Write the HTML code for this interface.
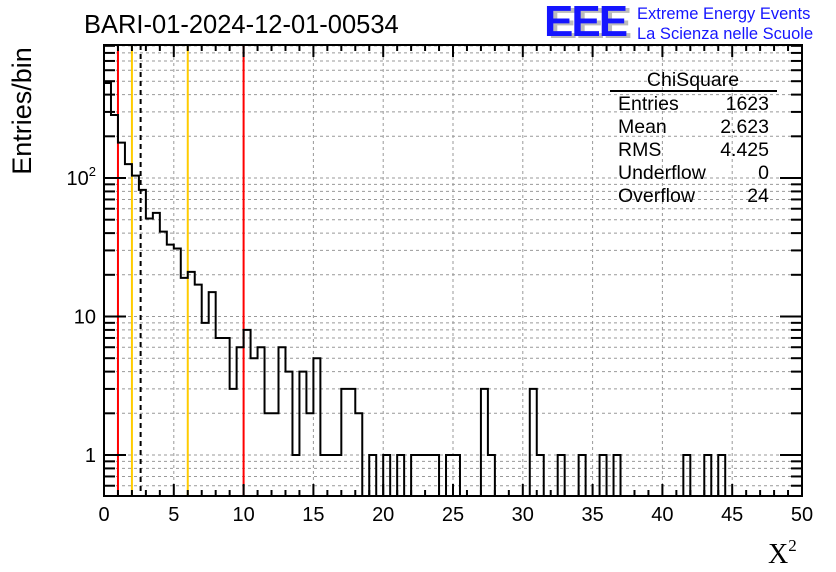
<!DOCTYPE html>
<html><head><meta charset="utf-8"><style>
body{margin:0;background:#fff;}
svg{display:block;font-family:"Liberation Sans",sans-serif;}
</style></head><body>
<svg id="c" width="836" height="572">
<text x="84" y="33" font-size="25.5">BARI-01-2024-12-01-00534</text>
<g>
<text x="548" y="38" font-size="44" font-weight="bold" fill="#bbb" letter-spacing="-2">EEE</text>
<text x="544" y="36" font-size="44" font-weight="bold" fill="#1515ff" letter-spacing="-2">EEE</text>
<text x="637" y="19" font-size="16.5" fill="#1515ff">Extreme Energy Events</text>
<text x="637" y="39" font-size="16.5" fill="#1515ff">La Scienza nelle Scuole</text>
</g>
<text transform="translate(31,111) rotate(-90)" text-anchor="middle" font-size="27">Entries/bin</text>
<text x="768" y="563" font-size="28" font-family="Liberation Serif,serif">X<tspan font-size="17" dy="-12">2</tspan></text>
<g id="grid"></g><g id="marks"></g><g id="axes"></g>
<g font-size="19.5">
<text x="693" y="86" text-anchor="middle">ChiSquare</text>
<line x1="610" y1="91" x2="777" y2="91" stroke="#000" stroke-width="2"/>
<text x="618" y="110">Entries</text><text x="769" y="110" text-anchor="end">1623</text>
<text x="618" y="133">Mean</text><text x="769" y="133" text-anchor="end">2.623</text>
<text x="618" y="156">RMS</text><text x="769" y="156" text-anchor="end">4.425</text>
<text x="618" y="179">Underflow</text><text x="769" y="179" text-anchor="end">0</text>
<text x="618" y="202">Overflow</text><text x="769" y="202" text-anchor="end">24</text>
</g>
</svg>
<script>
const counts=[485,285,180,126,104,82,51,56,41,33,31,19,21,17,9,15,7,7,3,6,8,5,6,2,2,6,4,1,4,2,5,1,1,1,3,3,2,0,1,0,1,0,1,0,1,1,1,1,0,1,1,0,0,0,3,1,0,0,0,0,0,3,1,0,0,1,0,0,1,0,0,1,0,1,0,0,0,0,0,0,0,0,0,1,0,0,1,0,1,0,0,0,0,0,0,0,0,0,0,0];
const binWidth=0.5;
const xTicks=[0,5,10,15,20,25,30,35,40,45,50];
const yTicks=[1,10,100];
const redLines=[1,10];
const yellowLines=[2,6];
const meanLine=[2.623];
const L=104,R=802,T=45,B=496;
const X=v=>L+(R-L)*v/50;
const Y=v=>v<=0?B:Math.min(B,455-138.5*Math.log10(v));
const NS="http://www.w3.org/2000/svg";
function mk(t,a,p){const e=document.createElementNS(NS,t);for(const k in a)e.setAttribute(k,a[k]);p.appendChild(e);return e;}
const grid=document.getElementById('grid'),marks=document.getElementById('marks'),axes=document.getElementById('axes');
for(const t of xTicks.slice(1,-1)){const g=mk('line',{x1:X(t),x2:X(t),y1:T,y2:B,stroke:'#999','stroke-dasharray':'3,3'},grid);

}
const minors=[];for(const d of [0.1,1,10,100])for(let m=1;m<=9;m++){const v=m*d;if(Y(v)<B&&Y(v)>T)minors.push(v);}
for(const v of minors){const g=mk('line',{x1:L,x2:R,y1:Y(v),y2:Y(v),stroke:'#999','stroke-dasharray':'3,3'},grid);

}
function vl(v,col,dash,name){const e=mk('line',{x1:X(v),x2:X(v),y1:T,y2:B,stroke:col,'stroke-width':2},marks);if(dash)e.setAttribute('stroke-dasharray',dash);

}
redLines.forEach(v=>vl(v,'#f00',null,'red-cut-line'));
yellowLines.forEach(v=>vl(v,'#fc0',null,'yellow-cut-line'));
meanLine.forEach(v=>vl(v,'#000','5,4','mean-line'));
let d='';counts.forEach((c,i)=>{const x0=X(i*binWidth),x1=X((i+1)*binWidth),y=Y(c);d+=(i?'L':'M')+x0+','+y+'L'+x1+','+y;});
const h=mk('path',{d:d,fill:'none',stroke:'#000','stroke-width':2},marks);


const f=mk('rect',{x:L,y:T,width:R-L,height:B-T,fill:'none',stroke:'#000','stroke-width':2},axes);


for(let v=0;v<=50;v++){const len=v%5===0?12:6;
mk('line',{x1:X(v),x2:X(v),y1:B,y2:B-len,stroke:'#000','stroke-width':2},axes);
mk('line',{x1:X(v),x2:X(v),y1:T,y2:T+len,stroke:'#000','stroke-width':2},axes);}
for(const t of xTicks){const e=mk('text',{x:X(t),y:521,'text-anchor':'middle','font-size':20},axes);e.textContent=t;

}
for(const v of minors){const major=yTicks.includes(v);const len=major?22:11;
mk('line',{x1:L,x2:L+len,y1:Y(v),y2:Y(v),stroke:'#000','stroke-width':2},axes);
mk('line',{x1:R,x2:R-len,y1:Y(v),y2:Y(v),stroke:'#000','stroke-width':2},axes);}
yTicks.forEach(v=>{const e=mk('text',{x:96,y:Y(v)+7,'text-anchor':'end','font-size':20},axes);
if(v===100){e.textContent='10';const s=mk('tspan',{dy:-9,'font-size':13},e);s.textContent='2';}else e.textContent=v;

});
</script>
</body></html>
